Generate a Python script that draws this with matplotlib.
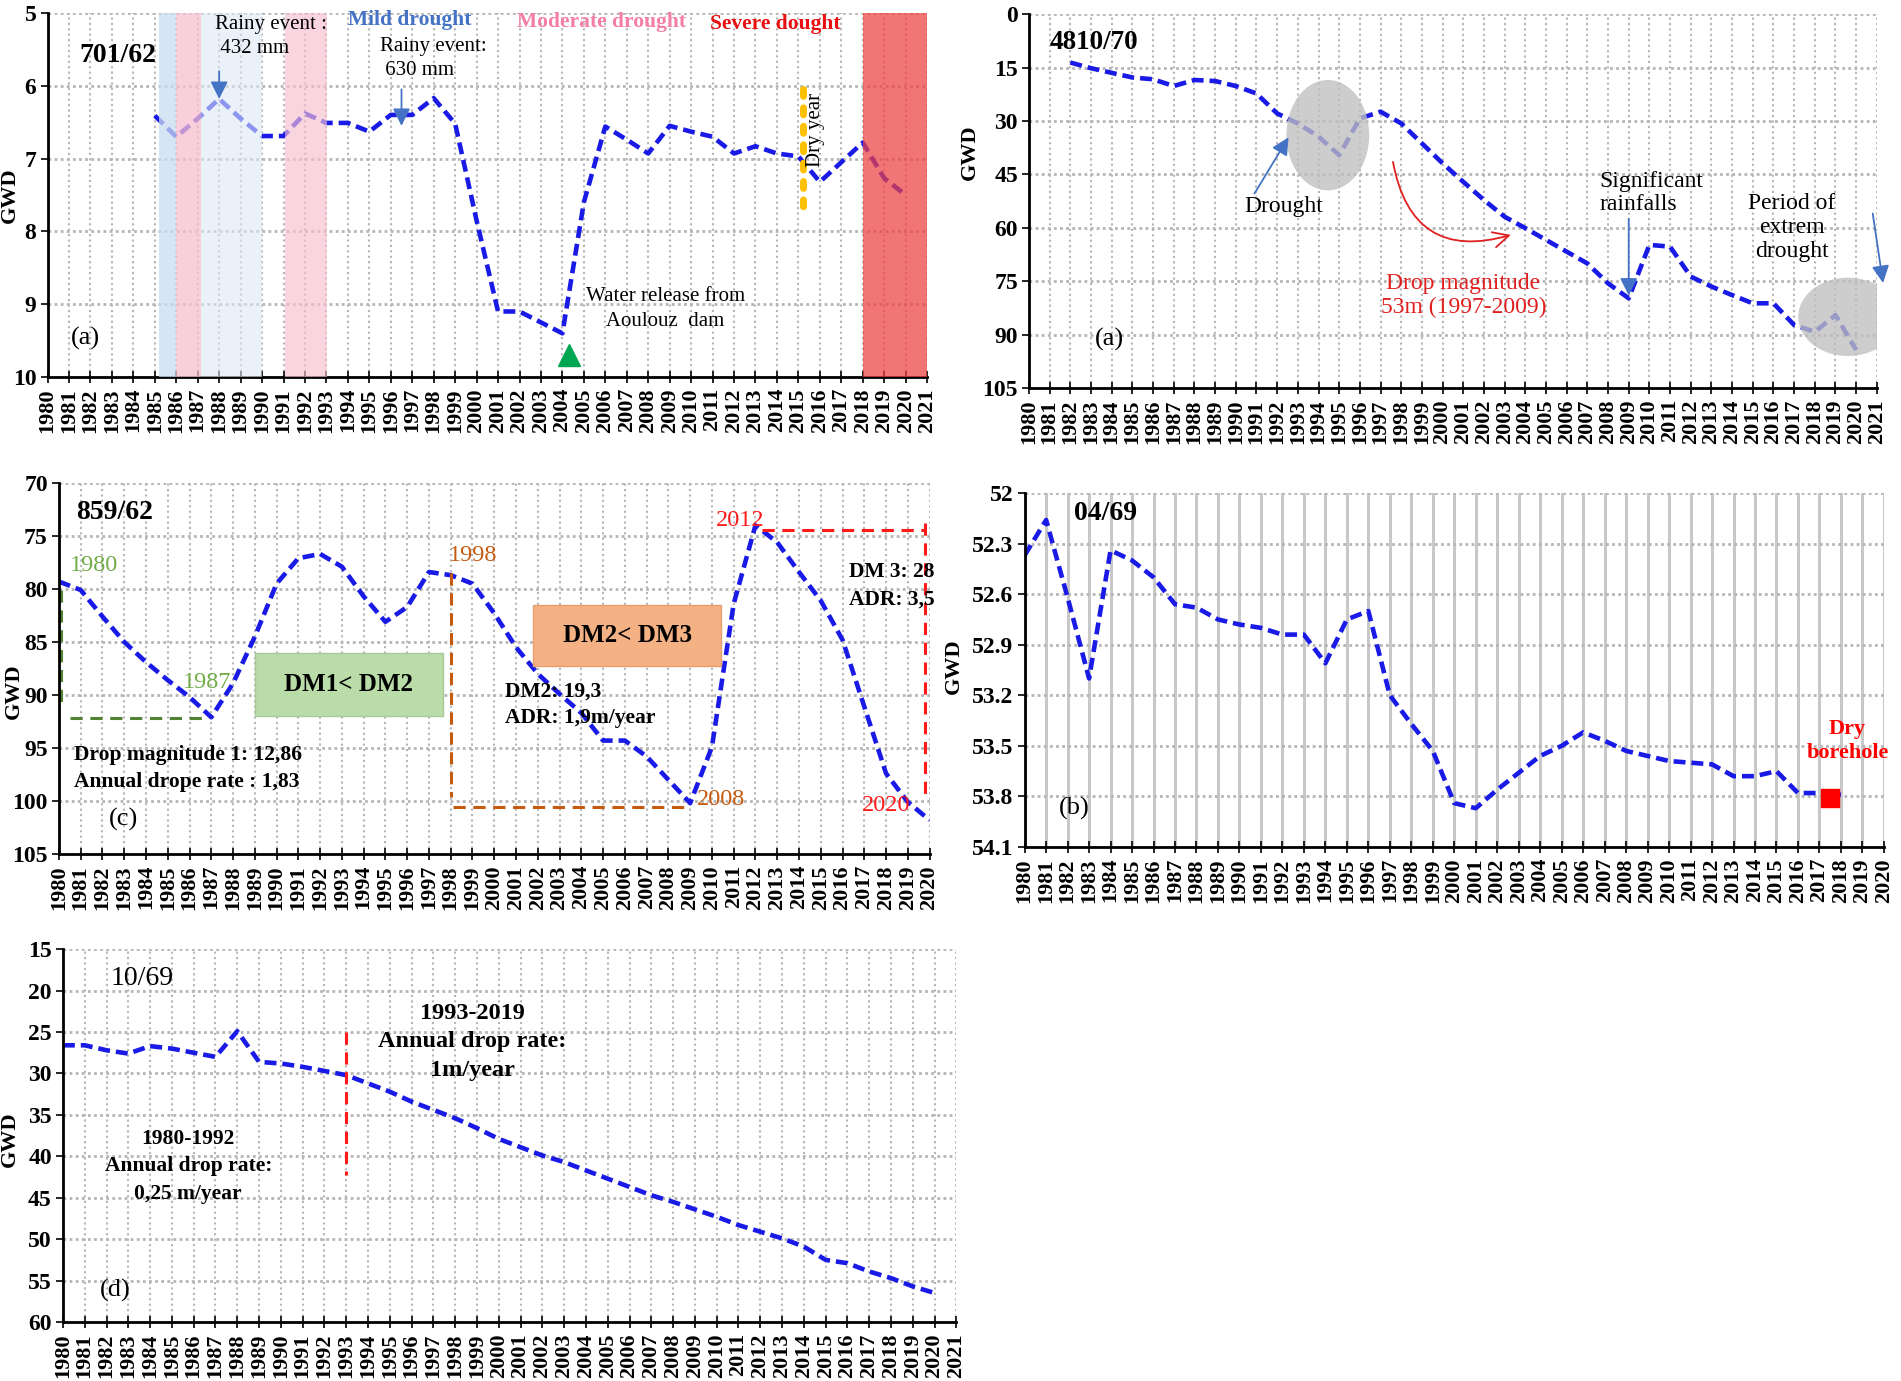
"""Groundwater depth (GWD) hydrographs of five wells, 1980-2021, with drought annotations."""

import matplotlib.pyplot as plt
from matplotlib.patches import Ellipse, Rectangle

plt.rcParams["font.family"] = ["Liberation Serif", "DejaVu Serif"]

LINE_COLOR = "#1A1AE6"
GRID_COLOR = "#B5B5B5"
ARROW_BLUE = "#4472C4"

# ---- well 701/62 (panel a, top left)
years_701 = list(range(1985, 2021))
gwd_701 = [6.41, 6.70, 6.45, 6.18, 6.45, 6.69, 6.69, 6.38, 6.51, 6.51, 6.63, 6.40,
           6.40, 6.17, 6.52, 7.85, 9.10, 9.10, 9.25, 9.40, 7.60, 6.56, 6.74, 6.93,
           6.55, 6.63, 6.70, 6.93, 6.83, 6.93, 6.97, 7.32, 7.05, 6.78, 7.27, 7.50]

# ---- well 4810/70 (top right)
years_4810 = list(range(1982, 2021))
gwd_4810 = [13.6, 15.2, 16.5, 17.8, 18.3, 20.2, 18.5, 18.8, 20.2, 22.3, 27.9, 30.7,
            34.4, 39.6, 29.3, 27.4, 30.7, 36.3, 41.9, 47.1, 52.2, 56.9, 60.1, 63.4,
            66.7, 70.0, 75.6, 79.8, 64.8, 65.3, 73.7, 76.5, 78.9, 81.2, 81.2, 87.3,
            89.2, 84.5, 94.3]

# ---- well 859/62 (panel c)
years_859 = list(range(1980, 2021))
gwd_859 = [79.3, 80.1, 82.6, 85.0, 86.9, 88.6, 90.2, 92.1, 88.9, 84.5, 79.5, 77.1,
           76.7, 77.9, 80.7, 83.1, 81.7, 78.4, 78.7, 79.5, 82.3, 85.5, 88.0, 89.9,
           91.7, 94.3, 94.3, 95.8, 98.0, 100.2, 94.9, 81.4, 74.0, 75.6, 78.4, 81.1,
           84.8, 91.1, 97.4, 100.1, 101.8]

# ---- well 04/69 (panel b)
years_0469 = list(range(1980, 2019))
gwd_0469 = [52.37, 52.16, 52.62, 53.10, 52.34, 52.40, 52.50, 52.66, 52.68, 52.75,
            52.78, 52.80, 52.84, 52.84, 53.01, 52.75, 52.70, 53.20, 53.37, 53.53,
            53.84, 53.87, 53.76, 53.66, 53.56, 53.50, 53.42, 53.47, 53.53, 53.56,
            53.59, 53.60, 53.61, 53.68, 53.68, 53.65, 53.78, 53.78, 53.79]

# ---- well 10/69 (panel d)
years_1069 = list(range(1980, 2021))
gwd_1069 = [26.6, 26.6, 27.2, 27.6, 26.7, 27.0, 27.5, 28.0, 24.9, 28.6, 28.8, 29.2,
            29.7, 30.2, 31.2, 32.2, 33.4, 34.4, 35.4, 36.6, 37.9, 38.9, 39.9, 40.7,
            41.7, 42.7, 43.7, 44.7, 45.5, 46.4, 47.3, 48.3, 49.1, 49.9, 50.9, 52.5,
            52.9, 53.9, 54.7, 55.7, 56.5]

# drought bands of panel (a): (start, end, colour, alpha)
bands_701 = [(1985.2, 1986.0, "#C9DCEF", 0.75), (1986.0, 1987.15, "#F7BFD0", 0.75),
             (1987.15, 1990.0, "#DCE8F5", 0.6), (1991.05, 1993.05, "#F7BFD0", 0.65),
             (2018.0, 2021.0, "#EE4040", 0.72)]


def setup_axes(ax, last_year, ylim, yticks, solid_vgrid=False):
    ax.set_xlim(1980, last_year)
    ax.set_ylim(*ylim)
    ax.set_xticks(range(1980, last_year + 1))
    ax.set_xticklabels([str(y) for y in range(1980, last_year + 1)], rotation=90,
                       fontsize=16, fontweight="bold")
    ax.set_yticks(yticks)
    ax.set_yticklabels([f"{v:g}" for v in yticks], fontsize=17, fontweight="bold")
    ax.tick_params(axis="x", direction="inout", length=8, width=1.2, pad=4)
    ax.tick_params(axis="y", direction="out", length=5, width=1.2, pad=3)
    for side in ("top", "right"):
        ax.spines[side].set_visible(False)
    for side in ("left", "bottom"):
        ax.spines[side].set_linewidth(2)
    if solid_vgrid:
        ax.grid(axis="x", color="#C8C8C8", linewidth=2.2, linestyle="-")
    else:
        ax.grid(axis="x", color=GRID_COLOR, linewidth=1.5, linestyle=(0, (1, 1.6)))
    ax.grid(axis="y", color=GRID_COLOR, linewidth=2.0, linestyle=(0, (1, 1.2)))
    ax.set_axisbelow(True)
    ax.set_ylabel("GWD", fontsize=16, fontweight="bold")


def plot_series(ax, years, values):
    ax.plot(years, values, color=LINE_COLOR, linewidth=3.3, dashes=(2.6, 1.3), zorder=2)


def blue_arrow(ax, start, end):
    ax.annotate("", xy=end, xytext=start, annotation_clip=False,
                arrowprops=dict(arrowstyle="-|>", color=ARROW_BLUE, lw=1.3,
                                mutation_scale=26, shrinkA=0, shrinkB=0), zorder=4)


fig = plt.figure(figsize=(19.01, 13.81), dpi=100)

# ---------------- panel (a): 701/62
ax = fig.add_axes([0.025, 0.727, 0.4627, 0.2636])
setup_axes(ax, 2021, (10, 5), [5, 6, 7, 8, 9, 10])
ax.yaxis.set_label_coords(-0.031, 0.5)
plot_series(ax, years_701, gwd_701)
for start, end, color, alpha in bands_701:
    ax.axvspan(start, end, color=color, alpha=alpha, linewidth=0, zorder=3)
ax.text(1981.5, 5.58, "701/62", fontsize=20, fontweight="bold", va="center")
ax.text(1994.0, 5.1, "Mild drought", fontsize=15.5, fontweight="bold", color=ARROW_BLUE,
        va="center")
ax.text(2001.9, 5.13, "Moderate drought", fontsize=15.5, fontweight="bold", color="#F47FA4",
        va="center")
ax.text(2010.9, 5.15, "Severe dought", fontsize=15.5, fontweight="bold", color="#E81010",
        va="center")
ax.text(1987.8, 5.55, "Rainy event :\n 432 mm", fontsize=15, linespacing=1.35)
ax.text(1995.5, 5.85, "Rainy event:\n 630 mm", fontsize=15, linespacing=1.35)
blue_arrow(ax, (1988.0, 5.8), (1988.0, 6.18))
blue_arrow(ax, (1996.5, 6.05), (1996.5, 6.55))
ax.plot([2015.2, 2015.2], [6.05, 7.7], color="#FFC000", linewidth=5, linestyle=":",
        dash_capstyle="round", zorder=3)
ax.text(2015.8, 6.6, "Dry year", fontsize=15, rotation=90, ha="center", va="center", zorder=4)
ax.plot([2004.3], [9.7], marker="^", color="#00A651", markersize=16, linestyle="none", zorder=4)
ax.text(2005.1, 9.3, "Water release from\n    Aoulouz  dam", fontsize=15, linespacing=1.45)
ax.text(1981.1, 9.55, "(a)", fontsize=19)

# ---------------- top right: 4810/70
ax = fig.add_axes([0.5413, 0.719, 0.446, 0.2708])
setup_axes(ax, 2021, (105, 0), list(range(0, 106, 15)))
ax.yaxis.set_label_coords(-0.058, 0.63)
plot_series(ax, years_4810, gwd_4810)
for center, width, height in (((1994.45, 34.0), 4.0, 31.0), ((2019.6, 85.0), 4.8, 22.0)):
    ax.add_patch(Ellipse(center, width, height, facecolor="#BFBFBF", alpha=0.78,
                         edgecolor="none", zorder=3))
ax.text(1981.0, 8.0, "4810/70", fontsize=19.5, fontweight="bold", va="center")
ax.text(1992.3, 53.9, "Drought", fontsize=17, ha="center", va="center")
blue_arrow(ax, (1990.9, 50.4), (1992.55, 34.6))
ax.text(2007.6, 50.2, "Significant\nrainfalls", fontsize=17, va="center", linespacing=1.1)
blue_arrow(ax, (2009.0, 57.5), (2009.0, 79.0))
ax.text(2016.9, 60.0, "Period of\nextrem\ndrought", fontsize=17, ha="center", va="center",
        linespacing=1.2)
blue_arrow(ax, (2020.8, 56.0), (2021.3, 75.5))
ax.annotate("", xy=(2003.3, 62.0), xytext=(1997.6, 41.5),
            arrowprops=dict(arrowstyle="->", color="#E02020", lw=1.3, mutation_scale=28,
                            connectionstyle="arc3,rad=0.55", shrinkA=0, shrinkB=0))
ax.text(2001.0, 79.0, "Drop magnitude\n53m (1997-2009)", fontsize=17, color="#E02020",
        ha="center", va="center", linespacing=1.2)
ax.text(1983.2, 93.0, "(a)", fontsize=19)

# ---------------- panel (c): 859/62
ax = fig.add_axes([0.031, 0.3816, 0.458, 0.2687])
setup_axes(ax, 2020, (105, 70), list(range(70, 106, 5)))
ax.yaxis.set_label_coords(-0.04, 0.44)
plot_series(ax, years_859, gwd_859)
ax.plot([1980.1, 1980.1], [80.1, 91.1], color="#548235", linewidth=2.2, dashes=(4, 2.5))
ax.plot([1980.5, 1986.8], [92.2, 92.2], color="#548235", linewidth=2.2, dashes=(4, 2.5))
ax.plot([1998.0, 1998.0], [78.5, 99.6], color="#C55A11", linewidth=2.2, dashes=(4, 2.5))
ax.plot([1998.1, 2008.8], [100.6, 100.6], color="#C55A11", linewidth=2.2, dashes=(4, 2.5))
ax.plot([2012.3, 2019.8], [74.4, 74.4], color="#FF1A1A", linewidth=2.2, dashes=(4, 2.5))
ax.plot([2019.8, 2019.8], [73.8, 99.6], color="#FF1A1A", linewidth=2.2, dashes=(4, 2.5))
ax.text(1980.5, 77.8, "1980", fontsize=17.5, color="#70AD47", va="center")
ax.text(1985.7, 88.8, "1987", fontsize=17.5, color="#70AD47", va="center")
ax.text(1997.9, 76.8, "1998", fontsize=17.5, color="#C55A11", va="center")
ax.text(2009.3, 99.9, "2008", fontsize=17.5, color="#C55A11", va="center")
ax.text(2010.2, 73.5, "2012", fontsize=17.5, color="#FF1A1A", va="center")
ax.text(2016.9, 100.4, "2020", fontsize=17.5, color="#FF1A1A", va="center")
ax.add_patch(Rectangle((1989.0, 86.0), 8.65, 6.0, facecolor="#B9DCA9", edgecolor="#A8C99A",
                       linewidth=1, zorder=3))
ax.text(1993.3, 89.0, "DM1< DM2", fontsize=18, fontweight="bold", ha="center", va="center",
        zorder=4)
ax.add_patch(Rectangle((2001.8, 81.5), 8.6, 5.8, facecolor="#F4B183", edgecolor="#E5A070",
                       linewidth=1, zorder=3))
ax.text(2006.1, 84.4, "DM2< DM3", fontsize=18, fontweight="bold", ha="center", va="center",
        zorder=4)
ax.text(2000.5, 90.9, "DM2: 19,3\nADR: 1,9m/year", fontsize=15.5, fontweight="bold",
        va="center", linespacing=1.45)
ax.text(2016.3, 79.7, "DM 3: 28\nADR: 3,5", fontsize=15.5, fontweight="bold", va="center",
        linespacing=1.45)
ax.text(1980.7, 96.9, "Drop magnitude 1: 12,86\nAnnual drope rate : 1,83", fontsize=15.5,
        fontweight="bold", va="center", linespacing=1.45)
ax.text(1982.3, 102.3, "(c)", fontsize=19)
ax.text(1980.8, 72.8, "859/62", fontsize=20, fontweight="bold", va="center")

# ---------------- panel (b): 04/69
ax = fig.add_axes([0.539, 0.3867, 0.452, 0.2563])
yt = [52.0, 52.3, 52.6, 52.9, 53.2, 53.5, 53.8, 54.1]
setup_axes(ax, 2020, (54.1, 52.0), yt, solid_vgrid=True)
ax.yaxis.set_label_coords(-0.071, 0.51)
plot_series(ax, years_0469, gwd_0469)
ax.plot([2017.5], [53.81], marker="s", color="#FF0000", markersize=13, linestyle="none",
        zorder=4)
ax.text(2018.3, 53.47, "Dry\nborehole", fontsize=16, fontweight="bold", color="#FF0000",
        ha="center", va="center", linespacing=1.3)
ax.text(1982.3, 52.12, "04/69", fontsize=20, fontweight="bold", va="center")
ax.text(1981.6, 53.87, "(b)", fontsize=19, va="center")

# ---------------- panel (d): 10/69
ax = fig.add_axes([0.0331, 0.0427, 0.470, 0.270])
setup_axes(ax, 2021, (60, 15), list(range(15, 61, 5)))
ax.yaxis.set_label_coords(-0.048, 0.49)
plot_series(ax, years_1069, gwd_1069)
ax.plot([1993.0, 1993.0], [25.0, 42.3], color="#FF1A1A", linewidth=2.2, dashes=(4, 2.5))
ax.text(1982.2, 18.5, "10/69", fontsize=20, va="center")
ax.text(1998.8, 26.2, "1993-2019\nAnnual drop rate:\n1m/year", fontsize=17.5,
        fontweight="bold", ha="center", va="center", linespacing=1.45)
ax.text(1985.75, 41.2, "1980-1992\nAnnual drop rate:\n0,25 m/year", fontsize=15.5,
        fontweight="bold", ha="center", va="center", linespacing=1.5)
ax.text(1981.7, 56.2, "(d)", fontsize=19, va="center")

fig.savefig("out.png", dpi=100)
